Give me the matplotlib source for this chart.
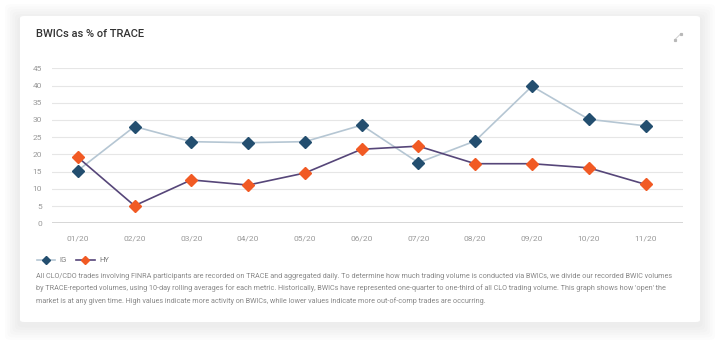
import matplotlib.pyplot as plt
from matplotlib.patches import FancyBboxPatch
from matplotlib.lines import Line2D

# monthly data, % of TRACE volume
months = ['01/20', '02/20', '03/20', '04/20', '05/20', '06/20',
          '07/20', '08/20', '09/20', '10/20', '11/20']
ig = [15.3, 28.1, 23.7, 23.4, 23.7, 28.5, 17.6, 23.9, 39.8, 30.2, 28.3]
hy = [19.2, 5.1, 12.6, 11.1, 14.6, 21.5, 22.4, 17.3, 17.3, 16.1, 11.3]
yticks = list(range(0, 50, 5))

title = 'BWICs as % of TRACE'
note = ("All CLO/CDO trades involving FINRA participants are recorded on TRACE and aggregated daily. "
        "To determine how much trading volume is conducted via BWICs, we divide our recorded BWIC volumes\n"
        "by TRACE-reported volumes, using 10-day rolling averages for each metric. Historically, BWICs have "
        "represented one-quarter to one-third of all CLO trading volume. This graph shows how 'open' the\n"
        "market is at any given time. High values indicate more activity on BWICs, while lower values "
        "indicate more out-of-comp trades are occurring.")

plt.rcParams['font.family'] = ['Roboto', 'DejaVu Sans']

W, H = 720, 346
fig = plt.figure(figsize=(W/100, H/100), dpi=100)
fig.patch.set_facecolor('white')

'''card with soft shadow'''
def px(x, y):
    return x/W, 1 - y/H

cx0, cy0, cx1, cy1 = 20, 16, 700, 322
for i in range(6):
    g = (i + 1) * 2.5
    x0, y0 = px(cx0 - g, cy1 + g + 3)
    fig.add_artist(FancyBboxPatch((x0, y0), (cx1 - cx0 + 2*g)/W, (cy1 - cy0 + 2*g)/H,
                                  boxstyle='round,pad=0,rounding_size=0.01',
                                  transform=fig.transFigure, fc='black', ec='none',
                                  alpha=0.012, zorder=0))
x0, y0 = px(cx0, cy1)
fig.add_artist(FancyBboxPatch((x0, y0), (cx1 - cx0)/W, (cy1 - cy0)/H,
                              boxstyle='round,pad=0,rounding_size=0.006',
                              transform=fig.transFigure, fc='white', ec='none', zorder=1))

fig.text(36/W, 1 - 34/H, title, fontsize=8, color='#333333', va='center', ha='left',
         fontweight='medium', zorder=3)

'''expand icon, top right'''
(ax0, ay0), (ax1, ay1) = px(675, 39.5), px(680.5, 34)
fig.add_artist(Line2D([ax0, ax1], [ay0, ay1], transform=fig.transFigure, color='#c8c8c8',
                      lw=0.6, zorder=3))
fig.add_artist(Line2D([ax0, ax1], [ay0, ay1], transform=fig.transFigure, ls='none',
                      marker='s', ms=1.3, color='#b8b8b8', zorder=3))

'''main plot'''
ax = fig.add_axes([52/W, 1 - 223.3/H, (683 - 52)/W, (223.3 - 68.3)/H], zorder=2)
ax.patch.set_alpha(0)
x = list(range(len(months)))
ax.plot(x, ig, color='#b5c6d3', lw=1.2, marker='D', ms=6, mfc='#234e6f', mec='#234e6f',
        label='IG', zorder=3)
ax.plot(x, hy, color='#564679', lw=1.2, marker='D', ms=6, mfc='#f15a24', mec='#f15a24',
        label='HY', zorder=3)

ax.set_ylim(0, 45)
ax.set_xlim(-0.453, 10.66)
ax.set_yticks(yticks)
ax.set_xticks(x)
ax.set_xticklabels(months)
for s in ax.spines.values():
    s.set_visible(False)
ax.grid(axis='y', color='#e6e6e6', lw=0.8)
ax.axhline(0, color='#d0d0d0', lw=1.2, zorder=1)
ax.tick_params(length=0, labelsize=6, labelcolor='#999999')
ax.tick_params(axis='y', pad=7)
ax.tick_params(axis='x', pad=9)

leg = fig.legend(handles=ax.get_lines()[:2], labels=['IG', 'HY'], loc='center left',
                 bbox_to_anchor=(30/W, 1 - 260/H), frameon=False, fontsize=5.5,
                 ncol=2, handlelength=2.4, handletextpad=0.6, columnspacing=1.2,
                 markerscale=0.7, labelcolor='#777777')
leg.set_zorder(3)

fig.text(36/W, 1 - 289/H, note, fontsize=5.2, color='#888888', va='center', ha='left',
         linespacing=1.75, zorder=3)

fig.savefig('out.png', dpi=100, facecolor=fig.get_facecolor())
